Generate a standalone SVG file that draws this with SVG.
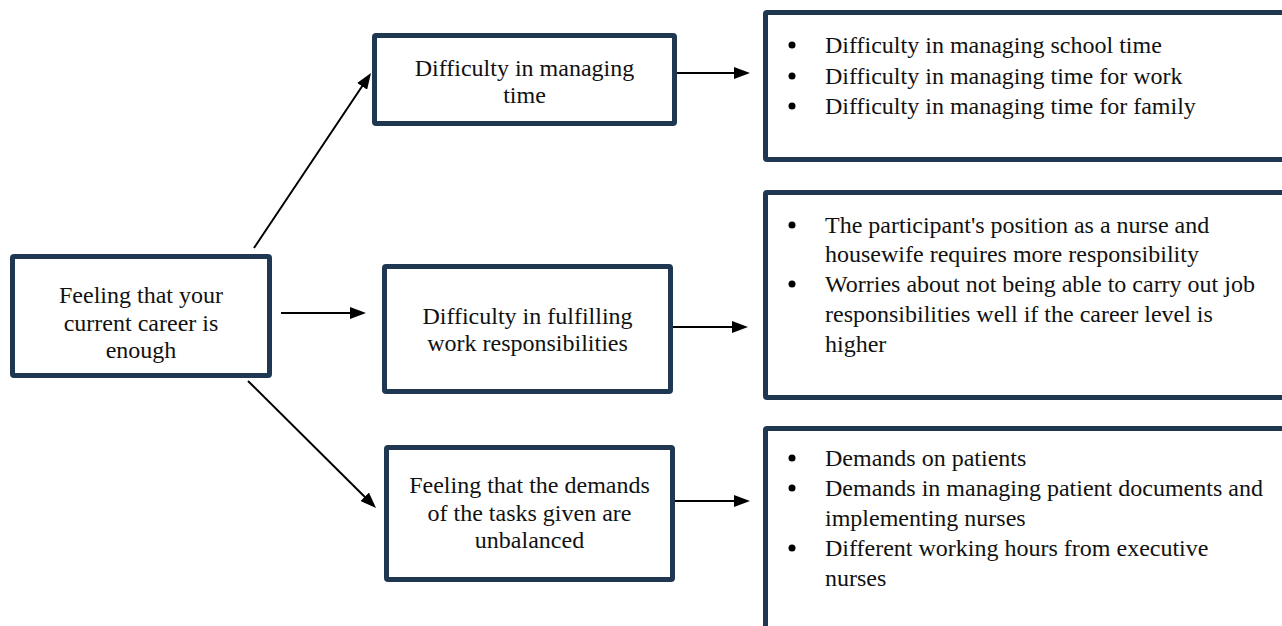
<svg xmlns="http://www.w3.org/2000/svg" width="1282" height="626" viewBox="0 0 1282 626" font-family="'Liberation Serif', 'Times New Roman', 'DejaVu Serif', serif">
<style>
.box{fill:#fff;stroke:#203752;stroke-width:5}
.t{font-family:'Liberation Serif','Times New Roman','DejaVu Serif',serif;font-size:24px;fill:#111}
.c{text-anchor:middle}
.ln{stroke:#000;stroke-width:2;fill:none}
.b{fill:#000}
</style>
<defs>
<marker id="ah" viewBox="0 0 16 12" refX="12" refY="6" markerWidth="16" markerHeight="12" markerUnits="userSpaceOnUse" orient="auto">
<path d="M0,0 L16,6 L0,12 Z" fill="#000"/>
</marker>
</defs>
<rect width="1282" height="626" fill="#fff"/>
<g id="connectors">
<line class="ln" x1="254" y1="248" x2="368.8" y2="76.3" marker-end="url(#ah)"/>
<line class="ln" x1="281" y1="313" x2="362" y2="313" marker-end="url(#ah)"/>
<line class="ln" x1="248" y1="381" x2="373.2" y2="505.2" marker-end="url(#ah)"/>
<line class="ln" x1="677" y1="73" x2="746" y2="73" marker-end="url(#ah)"/>
<line class="ln" x1="673" y1="327" x2="744" y2="327" marker-end="url(#ah)"/>
<line class="ln" x1="675" y1="501" x2="746" y2="501" marker-end="url(#ah)"/>
</g>
<g id="node-career">
<rect class="box" x="12.5" y="256.5" width="257" height="119" rx="1.5"/>
<text class="t c" x="141" y="303">Feeling that your</text>
<text class="t c" x="141" y="331">current career is</text>
<text class="t c" x="141" y="358">enough</text>
</g>
<g id="node-time">
<rect class="box" x="374.5" y="35.5" width="300" height="88" rx="1.5"/>
<text class="t c" x="524.5" y="75.5">Difficulty in managing</text>
<text class="t c" x="524.5" y="102.5">time</text>
</g>
<g id="node-work">
<rect class="box" x="384.5" y="266.5" width="286" height="125" rx="1.5"/>
<text class="t c" x="527.5" y="324">Difficulty in fulfilling</text>
<text class="t c" x="527.5" y="351">work responsibilities</text>
</g>
<g id="node-demands">
<rect class="box" x="386.5" y="447.5" width="286" height="132" rx="1.5"/>
<text class="t c" x="529.5" y="493">Feeling that the demands</text>
<text class="t c" x="529.5" y="521">of the tasks given are</text>
<text class="t c" x="529.5" y="548">unbalanced</text>
</g>
<g id="list-time">
<rect class="box" x="765.5" y="12.5" width="600" height="147" rx="1.5"/>
<circle class="b" cx="792" cy="45" r="3.5"/>
<circle class="b" cx="792" cy="76" r="3.5"/>
<circle class="b" cx="792" cy="106" r="3.5"/>
<text class="t" x="825" y="53">Difficulty in managing school time</text>
<text class="t" x="825" y="84">Difficulty in managing time for work</text>
<text class="t" x="825" y="114">Difficulty in managing time for family</text>
</g>
<g id="list-work">
<rect class="box" x="765.5" y="192.5" width="600" height="205" rx="1.5"/>
<circle class="b" cx="792" cy="225" r="3.5"/>
<circle class="b" cx="792" cy="284" r="3.5"/>
<text class="t" x="825" y="233">The participant's position as a nurse and</text>
<text class="t" x="825" y="262">housewife requires more responsibility</text>
<text class="t" x="825" y="292">Worries about not being able to carry out job</text>
<text class="t" x="825" y="322">responsibilities well if the career level is</text>
<text class="t" x="825" y="352">higher</text>
</g>
<g id="list-demands">
<rect class="box" x="765.5" y="428.5" width="600" height="300" rx="1.5"/>
<circle class="b" cx="792" cy="458" r="3.5"/>
<circle class="b" cx="792" cy="488" r="3.5"/>
<circle class="b" cx="792" cy="548" r="3.5"/>
<text class="t" x="825" y="466">Demands on patients</text>
<text class="t" x="825" y="496">Demands in managing patient documents and</text>
<text class="t" x="825" y="526">implementing nurses</text>
<text class="t" x="825" y="556">Different working hours from executive</text>
<text class="t" x="825" y="586">nurses</text>
</g>
</svg>
